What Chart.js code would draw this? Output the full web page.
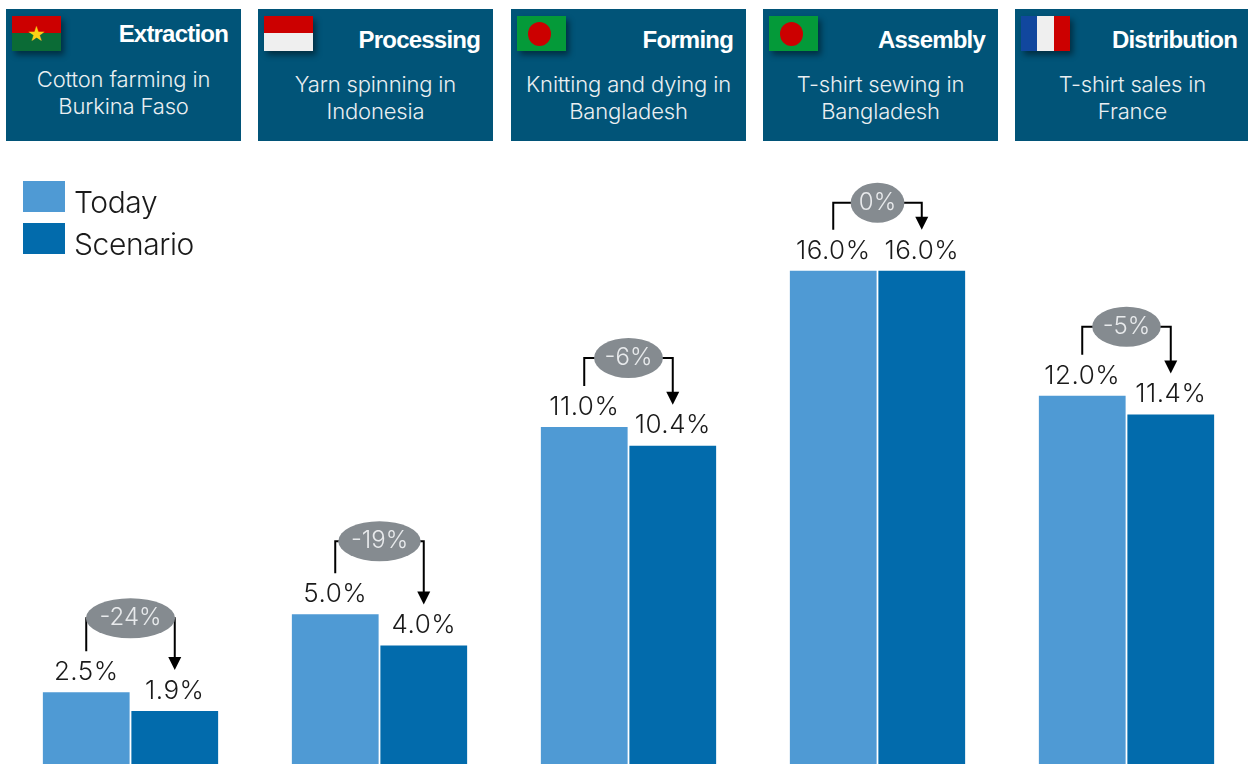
<!DOCTYPE html>
<html>
<head>
<meta charset="utf-8">
<title>T-shirt value chain</title>
<script src="https://cdn.jsdelivr.net/npm/chart.js@4"></script>
<style>
  html, body { margin: 0; padding: 0; background: #fff; width: 1248px; height: 764px; overflow: hidden; }
  body { position: relative; font-family: Inter, Roboto, "Liberation Sans", sans-serif; }
  #cards .card { position: absolute; top: 9px; width: 235px; height: 132px; background: #015478; color: #eaeff2; }
  .card .stage { position: absolute; right: 13px; top: 17px; font: bold 24px "Liberation Sans", sans-serif; letter-spacing: -0.8px; color: #fff; }
  .card .desc { position: absolute; left: 0; right: 0; top: 62px; text-align: center; font-size: 22px; font-weight: 300; letter-spacing: -0.15px; line-height: 27px; }
  .card.first .stage { top: 11px; }
  .card.first .desc { top: 57px; }
  .flag { position: absolute; left: 6px; top: 7px; width: 49px; height: 35px; box-shadow: 3px 4px 6px rgba(0, 0, 0, .45); overflow: hidden; }
  .flag .disc { position: absolute; left: 11px; top: 6px; width: 23px; height: 24px; border-radius: 50%; background: #cc0000; }
  .flag .star { position: absolute; left: 0; right: 0; top: 3px; text-align: center; color: #fcd116; font: 21px/30px "DejaVu Sans", sans-serif; }
  #legend { position: absolute; left: 23px; top: 181px; }
  #legend div { position: relative; height: 31px; margin-bottom: 11px; padding-left: 51px; font-size: 30px; font-weight: 300; letter-spacing: -0.4px; line-height: 42px; color: #1a1a1a; white-space: nowrap; }
  #legend i { position: absolute; left: 0; top: 0; width: 42px; height: 31px; }
  #chart { position: absolute; left: 6px; top: 146px; }
</style>
</head>
<body>
<div id="cards"></div>
<canvas id="chart" width="1245" height="618"></canvas>
<div id="legend"></div>

<script>
const stages       = ['Extraction', 'Processing', 'Forming', 'Assembly', 'Distribution'];
const descriptions = [
  ['Cotton farming in', 'Burkina Faso'],
  ['Yarn spinning in', 'Indonesia'],
  ['Knitting and dying in', 'Bangladesh'],
  ['T-shirt sewing in', 'Bangladesh'],
  ['T-shirt sales in', 'France']
];
const flags        = ['burkina', 'indonesia', 'bangladesh', 'bangladesh', 'france'];
const seriesNames  = ['Today', 'Scenario'];
const todayValues    = [2.5, 5.0, 11.0, 16.0, 12.0];
const scenarioValues = [1.9, 4.0, 10.4, 16.0, 11.4];
const changeLabels   = ['-24%', '-19%', '-6%', '0%', '-5%'];

const todayColor    = '#4f9ad4';
const scenarioColor = '#026bac';
const valueFont     = '300 26px Inter, Roboto, "Liberation Sans", sans-serif';
const changeFont    = '300 24px Inter, Roboto, "Liberation Sans", sans-serif';
const bracketLift   = [74, 73, 69, 68, 69];

const cardLefts = [6, 258, 511, 763, 1015];
const flagStyles = {
  burkina: 'background:linear-gradient(#cc0000 50%, #0b6b36 50%)',
  indonesia: 'background:linear-gradient(#cc0000 50%, #efefef 50%)',
  bangladesh: 'background:#049a39',
  france: 'background:linear-gradient(90deg, #11479e 33.3%, #efefef 33.3%, #efefef 66.6%, #cc0000 66.6%)'
};

function buildCards() {
  const holder = document.getElementById('cards');
  stages.forEach((stage, i) => {
    const card = document.createElement('div');
    card.className = i === 0 ? 'card first' : 'card';
    card.style.left = cardLefts[i] + 'px';
    const inner = flags[i] === 'bangladesh' ? '<div class="disc"></div>'
                : flags[i] === 'burkina'    ? '<div class="star">★</div>' : '';
    card.innerHTML = `
      <div class="flag" style="${flagStyles[flags[i]]}">${inner}</div>
      <div class="stage">${stage}</div>
      <div class="desc">${descriptions[i].join('<br>')}</div>
    `;
    holder.appendChild(card);
  });
  document.getElementById('legend').innerHTML =
    `<div><i style="background:${todayColor}"></i>${seriesNames[0]}</div>` +
    `<div><i style="background:${scenarioColor}"></i>${seriesNames[1]}</div>`;
}

// value labels and the grey change brackets, placed from the bars themselves
const barNotes = {
  id: 'barNotes',
  afterDatasetsDraw(chart) {
    const { ctx } = chart;
    const todayBars    = chart.getDatasetMeta(0).data;
    const scenarioBars = chart.getDatasetMeta(1).data;

    ctx.save();
    ctx.textAlign = 'center';
    ctx.textBaseline = 'middle';

    stages.forEach((_, i) => {
      const a = todayBars[i];
      const b = scenarioBars[i];

      ctx.font = valueFont;
      ctx.letterSpacing = '0.5px';
      ctx.fillStyle = '#1a1a1a';
      ctx.fillText(todayValues[i].toFixed(1) + '%', a.x, a.y - 20);
      ctx.fillText(scenarioValues[i].toFixed(1) + '%', b.x, b.y - 20);

      const y = a.y - bracketLift[i];
      const tipY = b.y - 41;
      ctx.strokeStyle = '#000';
      ctx.lineWidth = 2;
      ctx.beginPath();
      ctx.moveTo(a.x, a.y - 41);
      ctx.lineTo(a.x, y);
      ctx.lineTo(b.x, y);
      ctx.lineTo(b.x, tipY - 12);
      ctx.stroke();

      ctx.fillStyle = '#000';
      ctx.beginPath();
      ctx.moveTo(b.x - 6.5, tipY - 13);
      ctx.lineTo(b.x + 6.5, tipY - 13);
      ctx.lineTo(b.x, tipY);
      ctx.closePath();
      ctx.fill();

      const midX = (a.x + b.x) / 2;
      ctx.font = changeFont;
      ctx.letterSpacing = '0px';
      const rx = ctx.measureText(changeLabels[i]).width * 0.72;
      ctx.fillStyle = '#858b90';
      ctx.beginPath();
      ctx.ellipse(midX, y, rx, 20, 0, 0, Math.PI * 2);
      ctx.fill();
      ctx.fillStyle = '#e8eaec';
      ctx.fillText(changeLabels[i], midX, y);
    });
    ctx.restore();
  }
};

document.addEventListener('DOMContentLoaded', () => {
  buildCards();

  new Chart(document.getElementById('chart'), {
    type: 'bar',
    data: {
      labels: stages,
      datasets: [
        { label: seriesNames[0], data: todayValues, backgroundColor: todayColor },
        { label: seriesNames[1], data: scenarioValues, backgroundColor: scenarioColor }
      ]
    },
    options: {
      responsive: false,
      animation: false,
      categoryPercentage: 0.711,
      barPercentage: 0.98,
      layout: { padding: 0 },
      plugins: { legend: { display: false }, tooltip: { enabled: false } },
      scales: {
        x: { display: false },
        y: { display: false, min: 0.2, max: 20 }
      }
    },
    plugins: [barNotes]
  });
});
</script>
</body>
</html>
